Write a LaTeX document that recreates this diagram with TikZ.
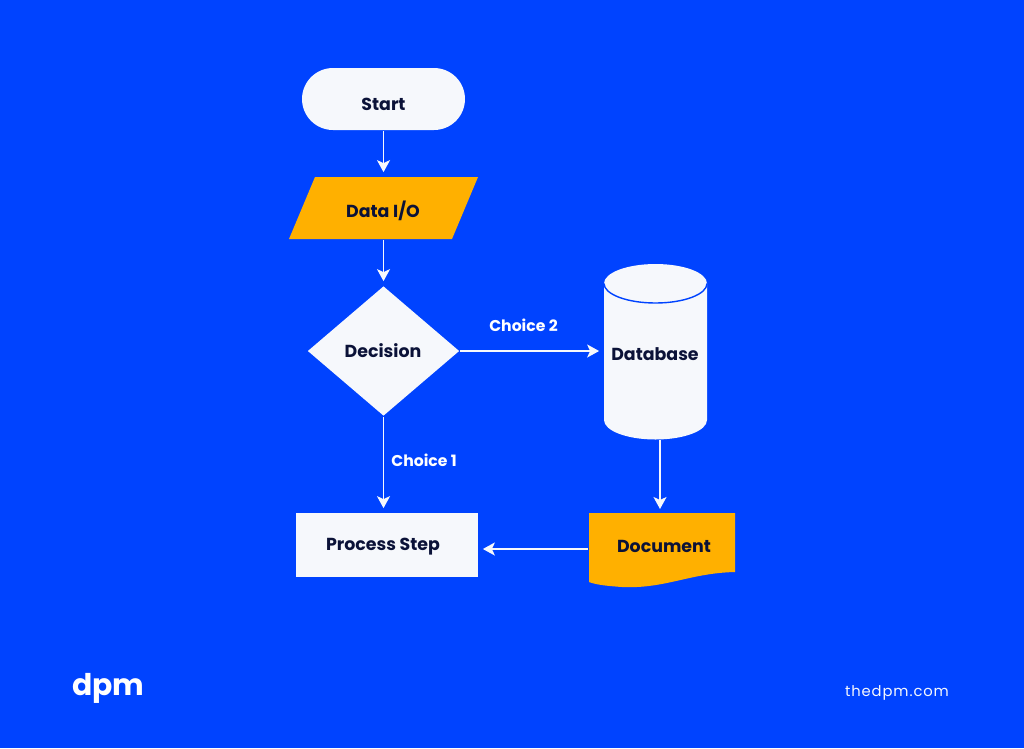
\documentclass[tikz,border=0pt]{standalone}
\usepackage{fontspec}
\setmainfont{Poppins}
\newfontfamily\sitefont[LetterSpace=6]{Poppins}
\usetikzlibrary{arrows.meta,shapes.geometric,shapes.misc}
\definecolor{pagebg}{HTML}{0043FF}
\definecolor{paleblock}{HTML}{F6F8FC}
\definecolor{amberblock}{HTML}{FFB000}
\definecolor{inkblue}{HTML}{0B1238}
\begin{document}
\begin{tikzpicture}
  [
  x=0.02cm, y=-0.02cm,
  line width=1pt,
  block/.style={inner sep=0pt, text=inkblue, font=\fontsize{9.9}{12}\selectfont\bfseries},
  choice/.style={inner sep=0pt, text=white, font=\fontsize{8.9}{11}\selectfont\bfseries},
  flow/.style={draw=paleblock, -{Stealth[length=2.4mm,width=2.6mm,inset=0.6mm]}, shorten >=0.08cm}
  ]

\fill[pagebg] (0,0) rectangle (1024,748);

\node[block, rounded rectangle, fill=paleblock, minimum width=3.26cm, minimum height=1.24cm] (start) at (383.5,99) {};

% parallelogram and its anchor node
\fill[amberblock] (315,177) -- (478,177) -- (452,239) -- (289,239) -- cycle;
\node[block, minimum width=3.78cm, minimum height=1.24cm] (data) at (383.5,208) {};

\node[block, diamond, fill=paleblock, minimum width=3.04cm, minimum height=2.6cm] (decision) at (383.5,351) {};
\node[block, fill=paleblock, minimum width=3.64cm, minimum height=1.28cm] (process) at (387,545) {};

% cylinder and its anchor node
\fill[paleblock] (604,283.5) arc[start angle=180, end angle=360, x radius=51.5, y radius=19.5]
  -- (707,420) arc[start angle=0, end angle=180, x radius=51.5, y radius=19.5] -- cycle;
\draw[draw=pagebg, line width=0.8pt] (604,283.5) arc[start angle=180, end angle=0, x radius=51.5, y radius=19.5];
\node[block, minimum width=2.06cm, minimum height=3.5cm] (database) at (655.5,351.5) {};

% wavy lower edge of the document
\fill[amberblock] (589,513) -- (735,513) -- (735,572)
  .. controls (690,573) and (665,589) .. (622,587)
  .. controls (608,586) and (597,585) .. (589,582) -- cycle;
\node[block, minimum width=2.92cm, minimum height=1.28cm] (document) at (662,545) {};

\node[block] (startlabel) at (383.5,104) {Start};
\node[block] (datalabel) at (383,211) {Data I/O};
\node[block] (decisionlabel) at (383,351) {Decision};
\node[block] (databaselabel) at (655,354) {Database};
\node[block] (processlabel) at (383,547) {Process Step};
\node[block] (documentlabel) at (664,546) {Document};

\node[choice] (choice2) at (523.5,325) {Choice 2};
\node[choice] (choice1) at (424,460) {Choice 1};

\draw[flow] (start) -- (start.south |- data.north);
\draw[flow] (data) -- (decision);
\draw[flow] (decision) -- (database.west |- decision);
\draw[flow] (decision) -- (decision |- process.north);
\draw[flow] (database.south -| 660,0) -- (660,513);
\draw[flow] (document.west |- 0,549) -- (process.east |- 0,549);

\node[text=white, inner sep=0pt, font=\fontsize{17}{20}\selectfont\bfseries] (logo) at (108.5,688) {dpm};
\node[text=paleblock, inner sep=0pt, font=\sitefont\fontsize{8.4}{10}\selectfont] (site) at (897,693) {thedpm.com};

\end{tikzpicture}
\end{document}
